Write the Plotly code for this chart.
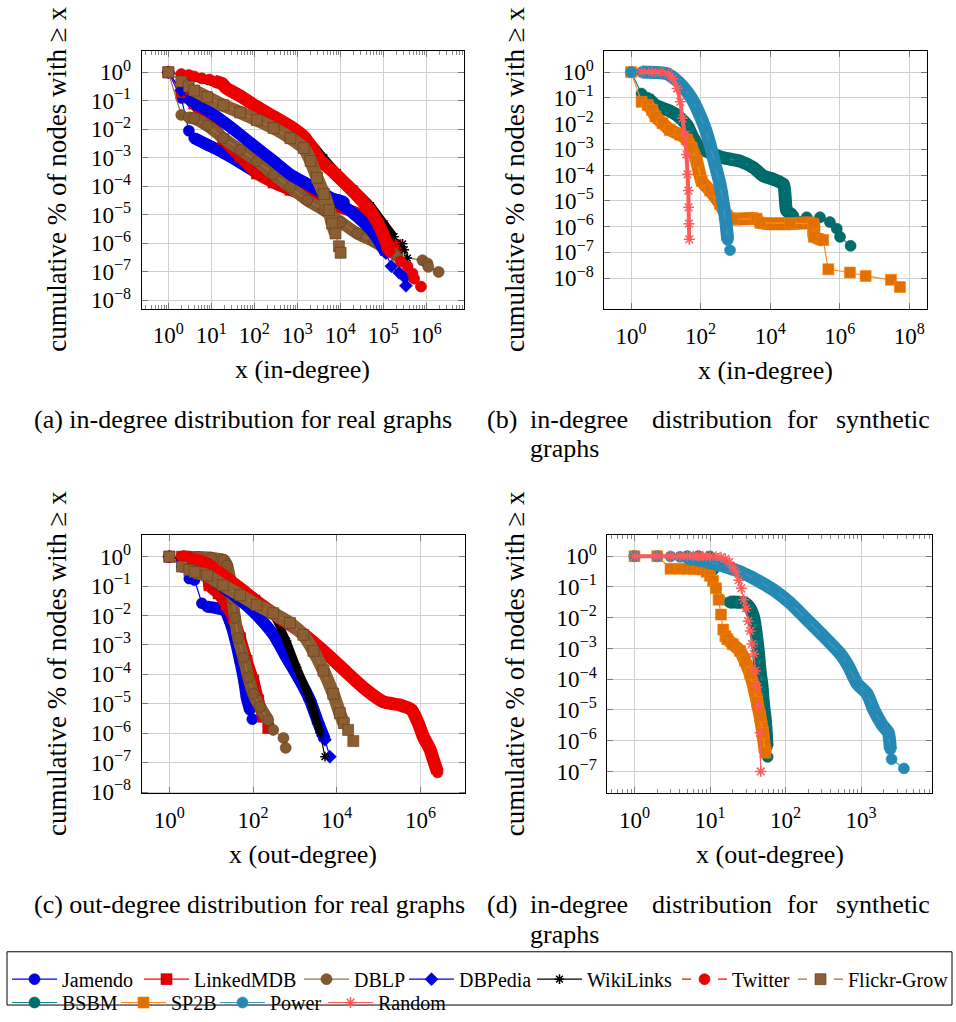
import math
import plotly.graph_objects as go

# ---------------- data: cumulative fraction of nodes with degree >= x ----------------
# (a) in-degree, real graphs
jamendo_in_x = [1, 2, 3, 4, 8, 19, 47, 115, 282, 692, 1700, 4170, 9300, 12200]
jamendo_in_y = [1, 0.126, 0.0089, 0.0049, 0.0029, 0.0015, 6.8e-4, 3.0e-4, 1.8e-4, 1.05e-4, 6.2e-5, 4.4e-5, 3.2e-5, 2.8e-5]
linkedmdb_in_x = [1, 2, 3, 4, 8, 19, 47, 115, 282, 692, 1700, 4170, 10200, 25000, 61000, 126000, 195000, 208000]
linkedmdb_in_y = [1, 0.2, 0.13, 0.08, 0.022, 0.0045, 0.0011, 2.8e-4, 1.35e-4, 7.5e-5, 4.5e-5, 2.8e-5, 1.8e-5, 1.1e-5, 3.8e-6, 1.15e-6, 8.7e-7, 5.2e-7]
dblp_in_x = [1, 2, 3, 4, 8, 19, 47, 115, 282, 692, 1700, 4170, 10200, 25000, 61000, 126000, 214000, 820000, 1070000, 1120000, 1950000]
dblp_in_y = [1, 0.032, 0.026, 0.024, 0.0135, 0.0049, 0.0019, 7.7e-4, 2.6e-4, 9.2e-5, 3.2e-5, 1.44e-5, 5.6e-6, 2.2e-6, 1.15e-6, 5.9e-7, 3.5e-7, 2.5e-7, 1.95e-7, 1.48e-7, 9.8e-8]
dbpedia_in_x = [1, 2, 3, 4, 8, 19, 47, 115, 282, 692, 1700, 4170, 10200, 25000, 61000, 115000, 155000, 234000, 318000, 338000]
dbpedia_in_y = [1, 0.23, 0.105, 0.08, 0.047, 0.0186, 0.0065, 0.0022, 7.7e-4, 2.6e-4, 1.2e-4, 5.4e-5, 2.4e-5, 8.5e-6, 2.2e-6, 4.5e-7, 1.56e-7, 9.2e-8, 6.2e-8, 3.2e-8]
wikilinks_in_x = [1, 2, 3, 8, 21, 47, 115, 282, 692, 1700, 4170, 8500, 20900, 51000, 105000, 178000, 282000, 309000, 366000]
wikilinks_in_y = [1, 0.82, 0.73, 0.52, 0.30, 0.155, 0.07, 0.032, 0.0142, 0.0049, 1e-3, 3e-4, 8.1e-5, 2.1e-5, 4.9e-6, 1.7e-6, 9.5e-7, 5.9e-7, 3.0e-7]
twitter_in_x = [1, 2, 3, 4, 6, 9, 12, 18, 22, 47, 115, 282, 692, 1413, 2240, 3470, 5900, 10200, 20900, 42700, 72600, 105000, 138000, 257000, 366000, 480000, 525000, 755000]
twitter_in_y = [1, 0.87, 0.81, 0.72, 0.62, 0.56, 0.48, 0.40, 0.28, 0.148, 0.062, 0.028, 0.0126, 0.0056, 0.0022, 7.7e-4, 4e-4, 1.8e-4, 6.2e-5, 1.9e-5, 5.6e-6, 1.7e-6, 5.2e-7, 2.3e-7, 1.56e-7, 8.7e-8, 5.7e-8, 3.0e-8]
flickr_in_x = [1, 2, 3, 4, 8, 19, 47, 115, 282, 692, 1413, 2040, 2880, 4170, 5500, 6450, 7760, 9330, 10200]
flickr_in_y = [1, 0.48, 0.32, 0.23, 0.135, 0.07, 0.039, 0.021, 0.011, 0.0049, 0.0022, 7.8e-4, 2.0e-4, 5.4e-5, 1.45e-5, 4.9e-6, 2.2e-6, 7.8e-7, 4.6e-7]

# (b) in-degree, synthetic graphs
bsbm_in_x = [1, 2, 3, 5, 11, 20, 40, 62, 96, 187, 450, 1350, 3300, 6300, 12300, 24000, 27000, 29700, 46000, 112000, 270000, 520000, 820000, 1020000, 2050000]
bsbm_in_y = [1, 0.147, 0.1, 0.052, 0.034, 0.022, 0.009, 0.0027, 0.00114, 7.3e-4, 4.7e-4, 3.5e-4, 1.95e-4, 9.3e-5, 6.9e-5, 4.4e-5, 1.35e-5, 4.2e-6, 2.7e-6, 2.3e-6, 2.3e-6, 1.5e-6, 8.3e-7, 4e-7, 1.8e-7]
sp2b_in_x = [1, 2, 3, 4, 5, 8, 13, 26, 40, 55, 77, 107, 187, 362, 560, 870, 4070, 5200, 37000, 174000, 182000, 335000, 470000, 1960000, 5550000, 29700000, 53700000]
sp2b_in_y = [1, 0.07, 0.053, 0.034, 0.019, 0.0104, 0.0057, 0.0037, 0.0024, 0.00114, 3.5e-4, 5.9e-5, 2.5e-5, 7.6e-6, 2.7e-6, 2e-6, 2e-6, 1.4e-6, 1.3e-6, 1.3e-6, 4e-7, 3e-7, 2.2e-8, 1.65e-8, 1.22e-8, 8.6e-9, 4.5e-9]
power_in_x = [1, 2, 3, 5, 11, 18, 32, 55, 86, 134, 187, 259, 362, 450, 540, 600, 700]
power_in_y = [1, 1, 0.99, 0.97, 0.86, 0.55, 0.26, 0.095, 0.029, 0.0066, 0.0015, 2.6e-4, 4.4e-5, 7.6e-6, 1.3e-6, 3.0e-7, 1.22e-7]
random_in_x = [2, 4, 7, 12, 16, 21, 26, 30, 35, 39, 42, 44, 45, 46, 47]
random_in_y = [1, 1, 1, 0.86, 0.55, 0.23, 0.07, 0.016, 0.0037, 6.3e-4, 1.07e-4, 2.5e-5, 5.6e-6, 1.3e-6, 3.2e-7]

# (c) out-degree, real graphs
jamendo_out_x = [1, 2, 3, 4, 6, 8, 13, 21, 28, 37, 49, 61, 70, 84, 96]
jamendo_out_y = [1, 0.45, 0.18, 0.16, 0.026, 0.02, 0.018, 0.015, 0.0063, 0.0017, 2.9e-4, 6.2e-5, 1.7e-5, 6.2e-6, 3e-6]
linkedmdb_out_x = [1, 2, 3, 5, 8, 9, 15, 23, 34, 49, 70, 101, 132, 175, 230]
linkedmdb_out_y = [1, 1, 0.97, 0.84, 0.5, 0.107, 0.056, 0.023, 0.0082, 0.0017, 2.9e-4, 6.2e-5, 1.32e-5, 3.6e-6, 1.5e-6]
dblp_out_x = [1, 2, 3, 5, 10, 20, 24, 28, 32, 37, 44, 59, 77, 101, 146, 230, 302, 530, 600]
dblp_out_y = [1, 1, 0.99, 0.97, 0.92, 0.78, 0.5, 0.18, 0.038, 0.0082, 0.0017, 3.7e-4, 8e-5, 2.2e-5, 7.9e-6, 2.8e-6, 1.3e-6, 6.9e-7, 3.2e-7]
dbpedia_out_x = [1, 2, 3, 8, 19, 49, 121, 302, 630, 1310, 2280, 3610, 5200, 6800]
dbpedia_out_y = [1, 0.73, 0.5, 0.23, 0.094, 0.034, 0.0105, 0.0023, 3.7e-4, 6.2e-5, 1.32e-5, 2.2e-6, 6e-7, 1.6e-7]
wikilinks_out_x = [1, 3, 8, 19, 49, 121, 302, 630, 1100, 1900, 2750, 3970, 5200]
wikilinks_out_y = [1, 0.65, 0.39, 0.2, 0.094, 0.038, 0.0105, 0.00135, 1.74e-4, 2.9e-5, 6.2e-6, 1.02e-6, 1.6e-7]
twitter_out_x = [1, 2, 3, 8, 19, 49, 121, 440, 1310, 4780, 17000, 51000, 128000, 320000, 610000, 880000, 1150000, 1680000, 2000000, 2530000]
twitter_out_y = [1, 1, 0.88, 0.57, 0.23, 0.083, 0.03, 0.0082, 0.0029, 6.3e-4, 1.18e-4, 2.9e-5, 1.17e-5, 9.1e-6, 6.2e-6, 2.2e-6, 7.9e-7, 2.8e-7, 1.3e-7, 4.7e-8]
flickr_out_x = [1, 2, 3, 4, 8, 19, 49, 121, 302, 760, 1580, 2750, 4780, 8200, 11800, 14700, 18600, 24700]
flickr_out_y = [1, 0.46, 0.35, 0.30, 0.23, 0.107, 0.049, 0.023, 0.012, 0.0056, 0.0022, 6.3e-4, 1.35e-4, 2.2e-5, 4.8e-6, 2.2e-6, 1.3e-6, 5.4e-7]

# (d) out-degree, synthetic graphs
bsbm_out_x = [1, 2, 5, 7, 10, 11, 12, 18, 23, 29, 34, 38, 41, 44, 46, 49, 51, 54, 56, 57, 58]
bsbm_out_y = [1, 1, 1, 1, 0.98, 0.35, 0.09, 0.032, 0.032, 0.03, 0.02, 0.0098, 0.0029, 6.6e-4, 1.9e-4, 5.6e-5, 1.6e-5, 4.8e-6, 1.4e-6, 6.6e-7, 3e-7]
sp2b_out_x = [1, 2, 3, 4, 5, 6, 7, 8, 9, 10, 11, 12, 13, 14, 15, 16, 17, 20, 25, 29, 34, 38, 42, 46, 50, 54]
sp2b_out_y = [1, 1, 0.39, 0.39, 0.39, 0.39, 0.38, 0.37, 0.31, 0.23, 0.155, 0.09, 0.038, 0.0126, 0.0041, 0.0025, 0.002, 0.00138, 8.3e-4, 4e-4, 1.5e-4, 5.6e-5, 1.85e-5, 6.2e-6, 1.8e-6, 4.1e-7]
power_out_x = [1, 2, 3, 4, 5, 9, 15, 25, 42, 70, 116, 192, 320, 535, 690, 890, 1200, 1480, 1900, 2300, 2450, 2540, 3700]
power_out_y = [1, 1, 0.98, 0.95, 0.86, 0.67, 0.48, 0.31, 0.166, 0.079, 0.03, 0.0087, 0.0025, 6.6e-4, 2.5e-4, 7.1e-5, 3.4e-5, 1e-5, 3.3e-6, 1.8e-6, 5.2e-7, 2.5e-7, 1.26e-7]
random_out_x = [1, 2, 3, 4, 5, 6, 7, 8, 9, 10, 12, 14, 16, 18, 20, 22, 24, 26, 28, 30, 32, 34, 36, 38, 40, 42, 44, 46, 47]
random_out_y = [1, 1, 1, 1, 1, 1, 1, 1, 1, 0.99, 0.97, 0.93, 0.82, 0.64, 0.44, 0.31, 0.165, 0.09, 0.038, 0.02, 0.0077, 0.0037, 0.0014, 6.6e-4, 1.9e-4, 5.6e-5, 1.3e-5, 1.8e-6, 1e-7]

# tick exponents
y_exp_a = [0, -1, -2, -3, -4, -5, -6, -7, -8]
y_exp_d = [0, -1, -2, -3, -4, -5, -6, -7]
x_exp_a = [0, 1, 2, 3, 4, 5, 6]
x_exp_b = [0, 2, 4, 6, 8]
x_exp_c = [0, 2, 4, 6]
x_exp_d = [0, 1, 2, 3]

legend_rows = [["Jamendo", "LinkedMDB", "DBLP", "DBPedia", "WikiLinks", "Twitter", "Flickr-Grow"],
               ["BSBM", "SP2B", "Power", "Random"]]

# ---------------- styles ----------------
STYLE = {
    "Jamendo":     dict(line="#0000ff", fill="#0000e6", edge="#0000b0", symbol="circle", dash="solid", size=11),
    "LinkedMDB":   dict(line="#ff0000", fill="#e00000", edge="#c00000", symbol="square", dash="solid", size=11),
    "DBLP":        dict(line="#a0703f", fill="#85592f", edge="#5e3c1c", symbol="circle", dash="solid", size=11),
    "DBPedia":     dict(line="#0000ff", fill="#0000e6", edge="#0000b0", symbol="diamond", dash="solid", size=10),
    "WikiLinks":   dict(line="#000000", fill="#000000", edge="#000000", symbol="asterisk-open", dash="solid", size=8),
    "Twitter":     dict(line="#ff0000", fill="#ee0000", edge="#d00000", symbol="circle", dash="dash", size=11),
    "Flickr-Grow": dict(line="#a0703f", fill="#8c5e34", edge="#5e3c1c", symbol="square", dash="dash", size=11),
    "BSBM":        dict(line="#138a8a", fill="#006d6d", edge="#005a5a", symbol="circle", dash="solid", size=11),
    "SP2B":        dict(line="#ff8c1a", fill="#e07000", edge="#ff8000", symbol="square", dash="solid", size=11),
    "Power":       dict(line="#3a9cc4", fill="#2589b3", edge="#2a8fb8", symbol="circle", dash="solid", size=11),
    "Random":      dict(line="#ff5a5a", fill="#ff5a5a", edge="#ff4d4d", symbol="asterisk-open", dash="solid", size=9),
}

# left edge (px) of each legend entry, one legend per entry so the spacing stays natural
LEGEND_X = {"Jamendo": 7, "LinkedMDB": 139, "DBLP": 299, "DBPedia": 404, "WikiLinks": 532,
            "Twitter": 677, "Flickr-Grow": 793, "BSBM": 7, "SP2B": 116, "Power": 215, "Random": 323}
LEGEND_ROW_TOP = [973, 997]

# panel -> list of (name, x, y, dense slice start, dense slice end, band width)
PANELS = {
    "a": [("Jamendo", jamendo_in_x, jamendo_in_y, 3, 13, 12),
          ("LinkedMDB", linkedmdb_in_x, linkedmdb_in_y, 2, 15, 12),
          ("DBLP", dblp_in_x, dblp_in_y, 2, 16, 12),
          ("DBPedia", dbpedia_in_x, dbpedia_in_y, 3, 15, 12),
          ("WikiLinks", wikilinks_in_x, wikilinks_in_y, 2, 15, 8),
          ("Twitter", twitter_in_x, twitter_in_y, 6, 22, 13),
          ("Flickr-Grow", flickr_in_x, flickr_in_y, 3, 16, 13)],
    "b": [("BSBM", bsbm_in_x, bsbm_in_y, 2, 18, 13),
          ("SP2B", sp2b_in_x, sp2b_in_y, 2, 21, 13),
          ("Power", power_in_x, power_in_y, 1, 15, 13),
          ("Random", random_in_x, random_in_y, 0, 14, 4)],
    "c": [("Jamendo", jamendo_out_x, jamendo_out_y, 5, 13, 12),
          ("LinkedMDB", linkedmdb_out_x, linkedmdb_out_y, 1, 13, 12),
          ("DBLP", dblp_out_x, dblp_out_y, 1, 15, 12),
          ("DBPedia", dbpedia_out_x, dbpedia_out_y, 1, 12, 12),
          ("WikiLinks", wikilinks_out_x, wikilinks_out_y, 1, 11, 8),
          ("Twitter", twitter_out_x, twitter_out_y, 1, 19, 13),
          ("Flickr-Grow", flickr_out_x, flickr_out_y, 3, 15, 13)],
    "d": [("BSBM", bsbm_out_x, bsbm_out_y, 7, 19, 13),
          ("SP2B", sp2b_out_x, sp2b_out_y, 16, 25, 13),
          ("Power", power_out_x, power_out_y, 4, 20, 13),
          ("Random", random_out_x, random_out_y, 0, 9, 4)],
}

W, H = 956, 1022
# plot boxes in pixels: left, right, top, bottom
BOX = {"a": (141.7, 464.0, 51.7, 313.0),
       "b": (604.3, 926.7, 51.7, 313.3),
       "c": (141.7, 465.0, 542.3, 804.3),
       "d": (607.3, 932.0, 542.7, 804.0)}
XRANGE = {"a": [-0.62, 6.88], "b": [-0.77, 8.5], "c": [-0.66, 7.06], "d": [-0.36, 3.94]}
YRANGE = {"a": [-8.3, 0.75], "b": [-9.2, 0.82], "c": [-8.04, 0.74], "d": [-7.7, 0.68]}
XTICKS = {"a": x_exp_a, "b": x_exp_b, "c": x_exp_c, "d": x_exp_d}
YTICKS = {"a": y_exp_a, "b": y_exp_a, "c": y_exp_a, "d": y_exp_d}
MINOR_X = {"a": True, "b": False, "c": False, "d": True}
AXIS_IDX = {"a": "", "b": "2", "c": "3", "d": "4"}

FONT = "Liberation Serif"

all_legend_names = legend_rows[0] + legend_rows[1]
legend_key = {n: ("legend" if i == 0 else f"legend{i + 1}") for i, n in enumerate(all_legend_names)}


def pow_label(e):
    s = str(e).replace("-", "\u2212")
    return f"10<sup>{s}</sup>"


fig = go.Figure()
shown = set()
for p, series in PANELS.items():
    k = AXIS_IDX[p]
    xa, ya = "x" + k, "y" + k
    for name, xs, ys, b0, b1, bw in series:
        st = STYLE[name]
        # dense stretch of overlapping marks drawn as a thick stroke
        fig.add_trace(go.Scatter(
            x=xs[b0:b1 + 1], y=ys[b0:b1 + 1], mode="lines",
            line=dict(color=st["fill"], width=bw, shape="spline", smoothing=0.6),
            xaxis=xa, yaxis=ya, showlegend=False, hoverinfo="skip",
            legend=legend_key[name], legendgroup=name))
        is_open = st["symbol"].endswith("open")
        fig.add_trace(go.Scatter(
            x=xs, y=ys, mode="lines+markers", name=name,
            line=dict(color=st["line"], width=1.2, dash=st["dash"]),
            marker=dict(symbol=st["symbol"], size=st["size"], color=st["fill"],
                        line=dict(color=st["edge"], width=1.5 if is_open else 0.6)),
            xaxis=xa, yaxis=ya, legendgroup=name, legend=legend_key[name],
            showlegend=name not in shown))
        shown.add(name)

layout = dict(
    width=W, height=H, margin=dict(l=0, r=0, t=0, b=0),
    paper_bgcolor="white", plot_bgcolor="white",
    font=dict(family=FONT, color="black", size=20),
    showlegend=True,
)

for p in PANELS:
    k = AXIS_IDX[p]
    l, r, t, b = BOX[p]
    xdict = dict(
        type="log", range=XRANGE[p], domain=[l / W, r / W], anchor="y" + k,
        tickmode="array", tickvals=[10 ** e for e in XTICKS[p]],
        ticktext=[pow_label(e) for e in XTICKS[p]],
        ticks="inside", ticklen=6, tickcolor="#777777", tickwidth=1,
        showgrid=True, gridcolor="#d0d0d0", gridwidth=1,
        showline=True, linecolor="black", linewidth=1, mirror="ticks",
        zeroline=False, tickfont=dict(family=FONT, size=23),
        ticklabelstandoff=6,
    )
    if MINOR_X[p]:
        lo, hi = XRANGE[p]
        minor_vals = [m * 10 ** d for d in range(int(lo) - 1, int(hi) + 2)
                      for m in range(2, 10) if lo <= d + math.log10(m) <= hi]
        xdict["minor"] = dict(tickmode="array", tickvals=minor_vals, ticks="inside",
                              ticklen=4, tickcolor="#888888", showgrid=False)
    ydict = dict(
        type="log", range=YRANGE[p], domain=[1 - b / H, 1 - t / H], anchor="x" + k,
        tickmode="array", tickvals=[10 ** e for e in YTICKS[p]],
        ticktext=[pow_label(e) for e in YTICKS[p]],
        ticks="inside", ticklen=6, tickcolor="#777777", tickwidth=1,
        showgrid=True, gridcolor="#d0d0d0", gridwidth=1,
        showline=True, linecolor="black", linewidth=1, mirror="ticks",
        zeroline=False, tickfont=dict(family=FONT, size=23),
        ticklabelstandoff=5,
    )
    layout["xaxis" + k] = xdict
    layout["yaxis" + k] = ydict

annotations = []


def add_text(txt, x, y, size, xanchor="center", angle=0):
    annotations.append(dict(text=txt, x=x / W, y=1 - y / H, xref="paper", yref="paper",
                            showarrow=False, xanchor=xanchor, yanchor="middle",
                            textangle=angle, font=dict(family=FONT, size=size, color="black")))


# axis titles
for p, xt in [("a", "x (in-degree)"), ("b", "x (in-degree)"),
              ("c", "x (out-degree)"), ("d", "x (out-degree)")]:
    l, r, t, b = BOX[p]
    add_text(xt, (l + r) / 2, b + 62, 26)
    add_text("cumulative % of nodes with \u2265 x", 57 if p in "ac" else 515, (t + b) / 2, 27, angle=-90)

# captions
add_text("(a) in-degree distribution for real graphs", 32, 425, 26, xanchor="left")
add_text("(c) out-degree distribution for real graphs", 32, 917, 26, xanchor="left")
for lbl, yy in [("(b)", 425), ("(d)", 917)]:
    for word, xx in [(lbl, 485), ("in-degree", 528), ("distribution", 650), ("for", 785), ("synthetic", 834)]:
        add_text(word, xx, yy, 26, xanchor="left")
    add_text("graphs", 528, yy + 30, 26, xanchor="left")

layout["annotations"] = annotations
layout["shapes"] = [dict(type="rect", xref="paper", yref="paper",
                         x0=7 / W, x1=952 / W, y0=1 - 1019 / H, y1=1 - 965 / H,
                         line=dict(color="black", width=1), fillcolor="rgba(0,0,0,0)")]
for ri, row in enumerate(legend_rows):
    for name in row:
        layout[legend_key[name]] = dict(
            orientation="h", x=LEGEND_X[name] / W, xanchor="left",
            y=1 - LEGEND_ROW_TOP[ri] / H, yanchor="top",
            font=dict(family=FONT, size=20), itemwidth=45,
            bgcolor="rgba(0,0,0,0)", borderwidth=0)

fig.update_layout(**layout)
fig.write_html("out.html")
